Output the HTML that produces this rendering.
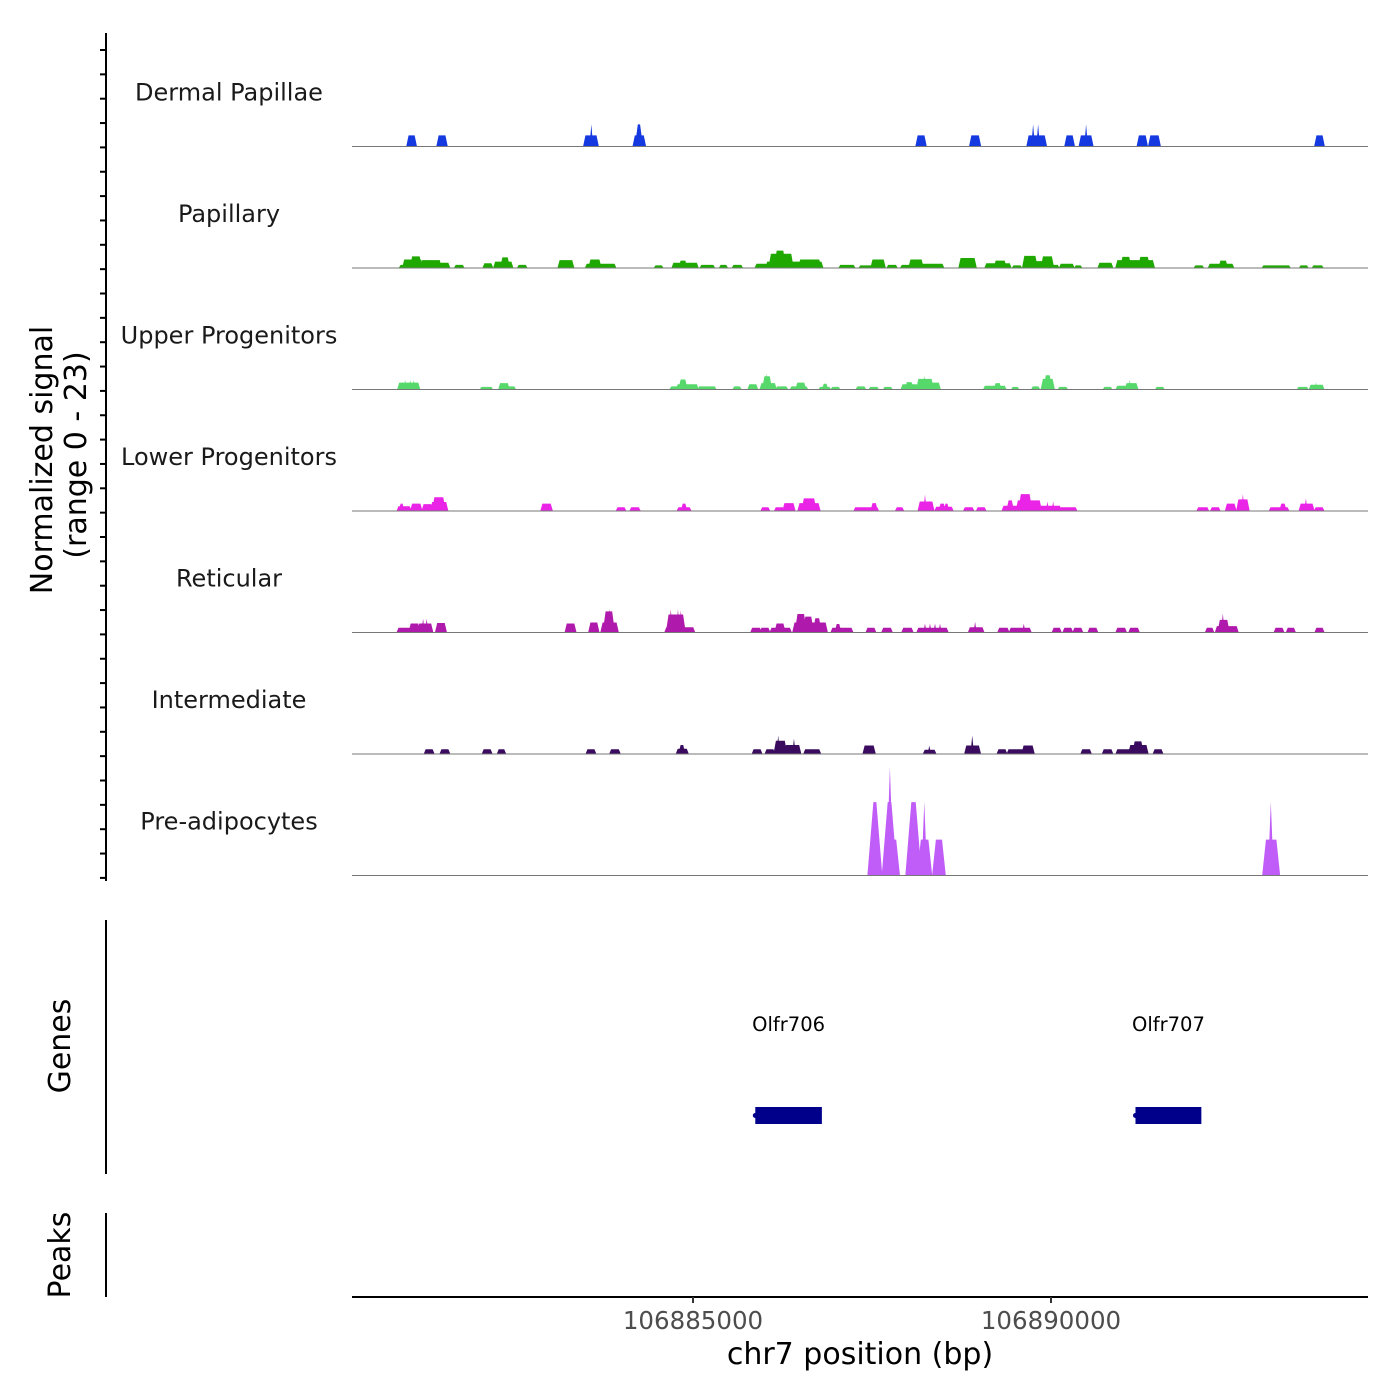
<!DOCTYPE html>
<html><head><meta charset="utf-8"><style>
html,body{margin:0;padding:0;background:#fff;}
svg{display:block;font-family:"DejaVu Sans","Liberation Sans",sans-serif;}
</style></head><body>
<svg id="chart" width="1400" height="1400" viewBox="0 0 1400 1400">
<g id="yaxis"></g>
<text x="52" y="460" transform="rotate(-90 52 460)" text-anchor="middle" font-size="30" fill="#000">Normalized signal</text>
<text x="86" y="455" transform="rotate(-90 86 455)" text-anchor="middle" font-size="30" fill="#000">(range 0 - 23)</text>
<g id="tracks"></g>
<line x1="106" y1="920" x2="106" y2="1174" stroke="#000" stroke-width="2"/>
<text x="70" y="1046" transform="rotate(-90 70 1046)" text-anchor="middle" font-size="30" fill="#000">Genes</text>
<g id="genes"></g>
<line x1="106" y1="1213" x2="106" y2="1297" stroke="#000" stroke-width="2"/>
<text x="70" y="1255" transform="rotate(-90 70 1255)" text-anchor="middle" font-size="30" fill="#000">Peaks</text>
<g id="xaxis"></g>
<text x="860" y="1364" text-anchor="middle" font-size="30" fill="#000">chr7 position (bp)</text>
</svg>
<script>
// positions in kb relative to 106885000
const xTickValues = [106885000, 106890000];
const xTickLabels = ["106885000", "106890000"];
const trackNames = ["Dermal Papillae","Papillary","Upper Progenitors","Lower Progenitors","Reticular","Intermediate","Pre-adipocytes"];
const trackColors = ["#1539e0","#1fa800","#56d86a","#ea24e6","#b01aac","#3a0b5e","#c05cf7"];
const signalMax = 23;
// blocks: [startKb, endKb, value]; spikes: [centerKb, value]
const dermalBlocks = [[-3.98,-3.88,2.1],[-3.56,-3.45,2.1],[-1.51,-1.34,2.1],[-0.82,-0.68,2.1],[-0.78,-0.73,4.2],[3.13,3.24,2.1],[3.88,4.00,2.1],[4.68,4.92,2.1],[5.21,5.31,2.1],[5.41,5.57,2.1],[6.22,6.33,2.1],[6.38,6.51,2.1],[8.70,8.80,2.1]];
const dermalSpikes = [[-1.42,4.2],[4.75,4.2],[4.82,4.2],[5.49,4.2]];
const papillaryBlocks = [[-4.09,-4.04,0.6],[-4.04,-3.79,1.6],[-3.93,-3.81,2.2],[-3.79,-3.53,1.5],[-3.53,-3.41,1.0],[-3.32,-3.21,0.6],[-2.92,-2.81,0.9],[-2.77,-2.53,1.2],[-2.67,-2.58,2.0],[-2.44,-2.33,0.6],[-1.87,-1.68,1.5],[-1.49,-1.09,0.8],[-1.44,-1.30,1.6],[-0.53,-0.43,0.5],[-0.28,0.06,1.0],[-0.18,-0.10,1.4],[0.11,0.29,0.6],[0.38,0.47,0.6],[0.56,0.68,0.6],[0.88,1.03,0.8],[1.03,1.80,1.2],[1.08,1.38,2.7],[1.16,1.27,3.3],[1.49,1.77,1.6],[2.05,2.25,0.6],[2.33,2.50,0.5],[2.50,2.67,1.6],[2.72,2.84,0.6],[2.91,3.03,0.6],[3.03,3.20,1.6],[3.20,3.49,0.8],[3.73,3.94,1.9],[4.09,4.43,0.9],[4.22,4.36,1.4],[4.47,4.58,0.5],[4.62,4.79,2.3],[4.79,4.88,1.3],[4.88,5.02,2.2],[5.02,5.10,0.6],[5.13,5.31,0.8],[5.34,5.42,0.5],[5.67,5.85,1.0],[5.92,6.43,1.5],[5.99,6.10,2.1],[6.24,6.36,2.1],[7.01,7.12,0.5],[7.21,7.54,0.8],[7.36,7.45,1.4],[7.96,8.33,0.5],[8.48,8.58,0.5],[8.66,8.79,0.5]];
const papillarySpikes = [];
const upperBlocks = [[-4.11,-3.83,1.3],[-2.96,-2.81,0.5],[-2.70,-2.58,1.2],[-2.58,-2.49,0.6],[-0.31,-0.22,0.6],[-0.22,0.06,1.0],[-0.18,-0.10,1.9],[0.08,0.31,0.6],[0.57,0.66,0.6],[0.78,0.89,1.0],[0.95,1.15,1.2],[0.99,1.08,2.5],[1.17,1.31,0.6],[1.37,1.59,0.6],[1.45,1.56,1.3],[1.77,1.91,0.5],[1.82,1.87,1.1],[1.94,2.04,0.5],[2.29,2.40,0.6],[2.47,2.58,0.5],[2.67,2.77,0.5],[2.92,3.13,1.0],[2.98,3.06,1.4],[3.14,3.34,2.0],[3.34,3.44,1.3],[4.07,4.36,0.7],[4.22,4.29,1.2],[4.46,4.54,0.5],[4.74,4.83,0.6],[4.88,5.03,2.0],[4.92,4.99,2.7],[5.11,5.22,0.5],[5.74,5.84,0.5],[5.92,6.20,0.7],[6.05,6.20,1.2],[6.47,6.57,0.5],[8.45,8.58,0.5],[8.62,8.80,0.9]];
const upperSpikes = [[-4.02,1.8],[-3.95,1.8],[-3.90,1.8],[1.03,3.0],[3.23,2.6],[6.10,1.8],[8.70,1.3]];
const lowerBlocks = [[-4.12,-3.95,0.9],[-4.09,-4.05,1.4],[-3.93,-3.80,1.4],[-3.77,-3.65,1.3],[-3.65,-3.44,1.7],[-3.62,-3.48,2.6],[-2.11,-1.98,1.4],[-1.06,-0.95,0.7],[-0.87,-0.75,0.7],[-0.21,-0.04,0.7],[-0.15,-0.10,1.4],[0.96,1.06,0.7],[1.15,1.26,0.7],[1.27,1.41,1.5],[1.48,1.76,1.5],[1.54,1.70,2.4],[2.26,2.58,0.7],[2.50,2.56,1.5],[2.84,2.93,0.7],[3.16,3.35,1.8],[3.39,3.62,0.8],[3.45,3.51,1.4],[3.52,3.56,1.4],[3.79,3.91,0.7],[3.97,4.08,0.7],[4.33,4.53,1.0],[4.40,4.46,2.0],[4.53,4.85,2.0],[4.57,4.71,3.2],[4.85,5.13,1.0],[5.13,5.35,0.7],[7.05,7.19,0.7],[7.24,7.35,0.7],[7.45,7.57,1.4],[7.61,7.75,2.2],[8.06,8.31,0.7],[8.21,8.27,1.4],[8.48,8.66,1.4],[8.69,8.80,0.7]];
const lowerSpikes = [[3.24,3.1],[4.95,1.8],[5.03,1.8],[7.68,3.2],[8.56,2.4]];
const reticularBlocks = [[-4.12,-3.95,0.9],[-3.95,-3.83,1.7],[-3.83,-3.65,1.7],[-3.58,-3.46,1.8],[-1.77,-1.65,1.7],[-1.44,-1.33,1.9],[-1.27,-1.06,1.9],[-1.23,-1.12,4.0],[-0.38,0.01,1.0],[-0.35,-0.13,3.4],[0.82,0.94,0.9],[0.95,1.06,0.9],[1.09,1.36,0.9],[1.16,1.27,1.7],[1.41,1.86,1.9],[1.45,1.56,3.5],[1.56,1.66,3.0],[1.70,1.77,2.7],[1.94,2.22,0.9],[2.00,2.05,1.6],[2.43,2.54,0.9],[2.65,2.77,0.9],[2.93,3.06,0.9],[3.14,3.55,0.9],[3.86,4.05,1.0],[4.27,4.40,0.9],[4.43,4.71,0.9],[5.03,5.13,0.9],[5.18,5.29,0.9],[5.32,5.43,0.9],[5.53,5.64,0.9],[5.92,6.04,0.9],[6.10,6.22,0.9],[7.17,7.26,0.9],[7.31,7.60,1.2],[7.35,7.47,2.4],[8.13,8.24,0.9],[8.30,8.40,0.9],[8.70,8.80,0.9]];
const reticularSpikes = [[-3.77,2.6],[-3.72,2.6],[-1.17,4.5],[-0.31,4.4],[-0.21,4.4],[-0.17,4.2],[3.24,1.7],[3.31,1.7],[3.38,1.7],[3.45,1.7],[3.94,2.0],[4.62,1.7],[7.40,3.6]];
const intermediateBlocks = [[-3.74,-3.63,0.9],[-3.52,-3.41,0.9],[-2.93,-2.82,0.9],[-2.72,-2.63,0.9],[-1.48,-1.37,0.9],[-1.15,-1.03,0.9],[-0.22,-0.08,1.0],[-0.18,-0.13,1.7],[0.84,0.95,0.9],[1.02,1.13,0.9],[1.15,1.29,2.5],[1.29,1.49,1.7],[1.56,1.77,0.9],[2.39,2.53,1.6],[3.23,3.38,0.8],[3.81,4.00,1.6],[4.26,4.37,0.9],[4.40,4.61,0.9],[4.61,4.75,1.6],[5.43,5.55,0.9],[5.73,5.85,0.9],[5.92,6.10,0.9],[6.10,6.34,1.7],[6.16,6.27,2.4],[6.44,6.55,0.9]];
const intermediateSpikes = [[1.19,3.5],[1.41,2.9],[3.30,1.6],[3.90,3.5]];
const preadipoBlocks = [[2.50,2.58,13.9],[2.70,2.79,13.9],[2.79,2.85,6.8],[3.03,3.13,13.9],[3.17,3.30,6.8],[3.38,3.49,6.8],[7.99,8.16,6.8]];
const preadipoSpikes = [[2.75,20.5],[3.23,13.9],[8.07,13.9]];
const trackBlocks = [dermalBlocks,papillaryBlocks,upperBlocks,lowerBlocks,reticularBlocks,intermediateBlocks,preadipoBlocks];
const trackSpikes = [dermalSpikes,papillarySpikes,upperSpikes,lowerSpikes,reticularSpikes,intermediateSpikes,preadipoSpikes];
const geneNames = ["Olfr706","Olfr707"];
const geneStarts = [106885870, 106891180];
const geneEnds = [106886800, 106892100];

const NS="http://www.w3.org/2000/svg";
const svg=document.getElementById('chart');
const X0=693, PXKB=71.6, REF=106885000;
const xPos = bp => X0 + (bp-REF)/1000*PXKB;
const xKb = kb => X0 + kb*PXKB;
const plotL=352, plotR=1368, trackTop0=25, trackH=121.5;
const yScale = v => v/signalMax*trackH;
function mk(tag, attrs, parent){const e=document.createElementNS(NS,tag);for(const k in attrs)e.setAttribute(k,attrs[k]);parent.appendChild(e);return e;}

const ya=document.getElementById('yaxis');
mk('line',{x1:106,y1:33,x2:106,y2:881,stroke:'#000','stroke-width':2},ya);
for(let i=0;i<35;i++){const y=50+i*24.35;const t=mk('line',{x1:100,y1:y,x2:106,y2:y,stroke:'#000','stroke-width':2},ya);

}

const tg=document.getElementById('tracks');
trackNames.forEach((name,i)=>{
  const base=trackTop0+trackH*(i+1);
  const g=mk('g',{},tg);
  
  
  const lab=mk('text',{x:229,y:base-46,'text-anchor':'middle','font-size':24,fill:'#1a1a1a'},g);
  lab.textContent=name;
  
  
  trackBlocks[i].forEach(b=>{
    const h=yScale(b[2]);const s=xKb(b[0]),e=xKb(b[1]);const sl=1.3+h*0.045;
    const p=mk('polygon',{points:`${s-sl},${base} ${s+sl*0.3},${base-h} ${e-sl*0.3},${base-h} ${e+sl},${base}`,fill:trackColors[i]},g);
    
    
  });
  trackSpikes[i].forEach(sp=>{
    const h=yScale(sp[1]);const c=xKb(sp[0]);const hw=1.4+h*0.02;
    const p=mk('polygon',{points:`${c-hw},${base} ${c},${base-h} ${c+hw},${base}`,fill:trackColors[i]},g);
    
    
  });
  const bl=mk('line',{x1:plotL,y1:base,x2:plotR,y2:base,stroke:'#777','stroke-width':1},g);
  
  
});

const gg=document.getElementById('genes');
geneNames.forEach((n,i)=>{
  const s=xPos(geneStarts[i]),e=xPos(geneEnds[i]);
  const r=mk('rect',{x:s,y:1107,width:e-s,height:17,fill:'#00008b'},gg);
  
  
  const d=mk('circle',{cx:s,cy:1115.5,r:2.5,fill:'#00008b'},gg);
  
  
  const t=mk('text',{x:(s+e)/2,y:1031,'text-anchor':'middle','font-size':19.5,fill:'#000'},gg);
  t.textContent=n;
  
  
});

const xa=document.getElementById('xaxis');
mk('line',{x1:plotL,y1:1297,x2:plotR,y2:1297,stroke:'#000','stroke-width':2},xa);
xTickValues.forEach((v,i)=>{
  const x=xPos(v);
  const t=mk('line',{x1:x,y1:1297,x2:x,y2:1303,stroke:'#333','stroke-width':2},xa);
  
  
  const l=mk('text',{x:x,y:1329,'text-anchor':'middle','font-size':24.5,fill:'#4d4d4d'},xa);
  l.textContent=xTickLabels[i];
  
  
});
</script>
</body></html>
